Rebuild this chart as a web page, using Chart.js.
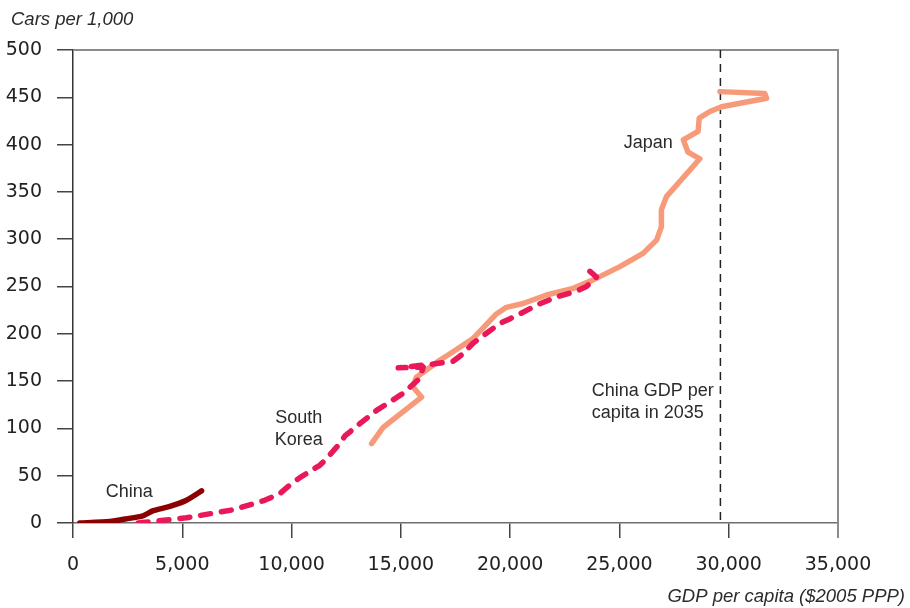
<!DOCTYPE html>
<html>
<head>
<meta charset="utf-8">
<title>Car ownership vs GDP per capita</title>
<script src="https://cdn.jsdelivr.net/npm/chart.js@4.4.1/dist/chart.umd.min.js"></script>
<style>
  html, body { margin: 0; padding: 0; background: #ffffff; }
  #wrap { width: 910px; height: 608px; }
</style>
</head>
<body>
<div id="wrap"><canvas id="chart" width="910" height="608"></canvas></div>
<script>
// GDP per capita ($2005 PPP) and cars per 1,000 people, by country path
const chinaGdp  = [310, 1680, 2450, 3200, 3670, 4430, 5190, 5880];
const chinaCars = [0, 1.6, 4.4, 7.6, 13, 17.5, 24, 34];

const koreaGdp  = [2980, 5190, 7330, 8770, 9460, 9910, 10380, 11290, 11600, 12200, 12440, 13120, 13890, 15100, 15870, 16020, 14880, 16470, 17390, 17850, 18300, 19530, 20000, 20440, 21280, 22120, 23040, 23490, 23950, 23650];
const koreaCars = [0, 5.5, 14, 24, 31, 40, 48, 61, 68, 84, 92, 105, 119, 137, 153, 165, 164, 168, 171, 179, 190, 211, 216, 221, 231, 239, 245, 250, 260, 266];

const japanGdp  = [13660, 14190, 15950, 15550, 15710, 16780, 17390, 18300, 19370, 19830, 20590, 21660, 22880, 23800, 25020, 26080, 26700, 26920, 26920, 27150, 27760, 28680, 28140, 27920, 28600, 28650, 29140, 29670, 31730, 31650, 29600];
const japanCars = [84, 101, 133, 144, 154, 172, 181, 195, 221, 228, 232, 241, 248, 257, 271, 285, 299, 313, 331, 345, 361, 385, 392, 405, 414, 428, 435, 440, 449, 454, 456];

// Projected China GDP per capita in 2035
const china2035Gdp = 29620;

// Axis ranges and tick steps
const xTickStep = 5000, xMax = 35000;
const yTickStep = 50, yMax = 500;

const yTitle = 'Cars per 1,000';
const xTitle = 'GDP per capita ($2005 PPP)';

// Text annotations placed in data coordinates (anchor of first line)
const notes = [
  { lines: ['China'], x: 2576, y: 32.3, align: 'center' },
  { lines: ['South', 'Korea'], x: 10330, y: 110.6, align: 'center' },
  { lines: ['Japan'], x: 26320, y: 401.6, align: 'center' },
  { lines: ['China GDP per', 'capita in 2035'], x: 23735, y: 139, align: 'left' }
];

const toPoints = (xs, ys) => xs.map((x, i) => ({ x, y: ys[i] }));

const TEXT_FONT = '"Liberation Sans", Arial, sans-serif';
const TICK_FONT = '"DejaVu Sans", sans-serif';

const decorations = {
  id: 'decorations',
  beforeDatasetsDraw(chart) {
    const { ctx, chartArea: a, scales: { x, y } } = chart;
    ctx.save();
    // top and right frame
    ctx.strokeStyle = '#8c8c8c';
    ctx.lineWidth = 2;
    ctx.beginPath();
    ctx.moveTo(a.left, y.getPixelForValue(yMax));
    ctx.lineTo(x.getPixelForValue(xMax), y.getPixelForValue(yMax));
    ctx.lineTo(x.getPixelForValue(xMax), y.getPixelForValue(0) + 15);
    ctx.stroke();
    // reference line for 2035
    const px = x.getPixelForValue(china2035Gdp);
    ctx.strokeStyle = '#222222';
    ctx.lineWidth = 1.5;
    ctx.setLineDash([8, 6]);
    ctx.beginPath();
    ctx.moveTo(px, y.getPixelForValue(yMax));
    ctx.lineTo(px, y.getPixelForValue(0));
    ctx.stroke();
    ctx.restore();
  },
  afterDraw(chart) {
    const { ctx, scales: { x, y } } = chart;
    ctx.save();
    ctx.fillStyle = '#2b2b2b';
    ctx.textBaseline = 'middle';
    ctx.font = `18px ${TEXT_FONT}`;
    notes.forEach(n => {
      ctx.textAlign = n.align;
      const px = x.getPixelForValue(n.x);
      const py = y.getPixelForValue(n.y);
      n.lines.forEach((t, i) => ctx.fillText(t, px, py + i * 22));
    });
    ctx.font = `italic 18.5px ${TEXT_FONT}`;
    ctx.textAlign = 'left';
    ctx.fillText(yTitle, 11, 20);
    ctx.textAlign = 'right';
    ctx.fillText(xTitle, 905, 597);
    ctx.restore();
  }
};

new Chart(document.getElementById('chart'), {
  type: 'scatter',
  data: {
    datasets: [
      {
        label: 'China', data: toPoints(chinaGdp, chinaCars), order: 0,
        showLine: true, borderColor: '#8b0000', borderWidth: 5.5, pointRadius: 0,
        borderCapStyle: 'round', borderJoinStyle: 'round', tension: 0.2
      },
      {
        label: 'South Korea', data: toPoints(koreaGdp, koreaCars), order: 1,
        showLine: true, borderColor: '#ea1759', borderWidth: 5.5, pointRadius: 0,
        borderDash: [10, 11], borderCapStyle: 'round', borderJoinStyle: 'round', tension: 0
      },
      {
        label: 'Japan', data: toPoints(japanGdp, japanCars), order: 2,
        showLine: true, borderColor: '#f79a7a', borderWidth: 5.5, pointRadius: 0,
        borderCapStyle: 'round', borderJoinStyle: 'round', tension: 0
      }
    ]
  },
  options: {
    responsive: false,
    animation: false,
    events: [],
    layout: { padding: { top: 50, right: 72, left: 0, bottom: 0 } },
    plugins: { legend: { display: false }, tooltip: { enabled: false } },
    scales: {
      x: {
        type: 'linear', min: 0, max: xMax,
        afterFit(s) { s.height = 85; },
        border: { display: true, color: '#6e6e6e', width: 1.5 },
        grid: { drawOnChartArea: false, drawTicks: true, tickLength: 15, color: '#444444', lineWidth: 1.5 },
        ticks: {
          stepSize: xTickStep, padding: 16, color: '#222222',
          font: { family: TICK_FONT, size: 19 }, maxRotation: 0,
          callback: v => v.toLocaleString('en-US')
        }
      },
      y: {
        type: 'linear', min: 0, max: yMax,
        afterFit(s) { s.width = 73; },
        border: { display: true, color: '#333333', width: 1.5 },
        grid: { drawOnChartArea: false, drawTicks: true, tickLength: 16, color: '#444444', lineWidth: 1.5 },
        ticks: {
          stepSize: yTickStep, padding: 15, color: '#222222',
          font: { family: TICK_FONT, size: 19 }
        }
      }
    }
  },
  plugins: [decorations]
});
</script>
</body>
</html>
